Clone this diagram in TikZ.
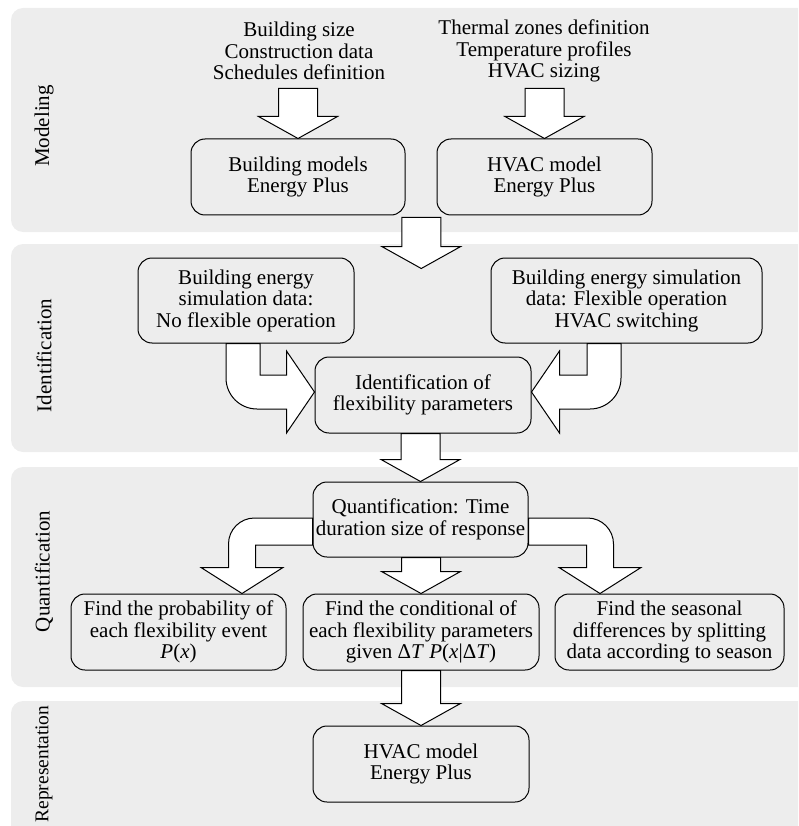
\documentclass[tikz,border=0pt]{standalone}
\usepackage{fontspec}
\setmainfont{Liberation Serif}
\usetikzlibrary{positioning, calc}
\definecolor{bandgray}{HTML}{EDEDED}
\tikzset{
    band/.style={fill=bandgray, draw=none, rounded corners=12pt},
    box/.style={draw, line width=1pt, fill=bandgray, rounded corners=14pt,
        align=center, minimum height=76pt, inner sep=2pt},
    phase/.style={rotate=90},
    blockarrow/.style={draw, line width=1pt, fill=white},
}
% straight block arrow, from top of shaft #1 down to tip #2
\newcommand{\DownArrow}[2]{%
  \draw[blockarrow] let \p1=(#1), \p2=(#2) in
    (\x2-19.5pt,\y1) -- (\x2-19.5pt,\y2+22pt) -- (\x2-39.5pt,\y2+22pt) -- (\x2,\y2)
    -- (\x2+39.5pt,\y2+22pt) -- (\x2+19.5pt,\y2+22pt) -- (\x2+19.5pt,\y1) -- cycle;}
% bent block arrows: #3 half shaft, #4 corner radius
\newcommand{\BendDownRight}[4]{%
  \draw[blockarrow] let \p1=(#1), \p2=(#2) in
    (\x1+#3,\y1) -- (\x1-#3,\y1) -- (\x1-#3,\y2-#3+#4)
    arc[start angle=180, end angle=270, radius=#4]
    -- (\x2-28pt,\y2-#3) -- (\x2-28pt,\y2-41pt) -- (\x2,\y2) -- (\x2-28pt,\y2+41pt)
    -- (\x2-28pt,\y2+#3) -- (\x1+#3,\y2+#3) -- cycle;}
\newcommand{\BendDownLeft}[4]{%
  \draw[blockarrow] let \p1=(#1), \p2=(#2) in
    (\x1-#3,\y1) -- (\x1+#3,\y1) -- (\x1+#3,\y2-#3+#4)
    arc[start angle=0, end angle=-90, radius=#4]
    -- (\x2+28pt,\y2-#3) -- (\x2+28pt,\y2-41pt) -- (\x2,\y2) -- (\x2+28pt,\y2+41pt)
    -- (\x2+28pt,\y2+#3) -- (\x1-#3,\y2+#3) -- cycle;}
\newcommand{\BendLeftDown}[4]{%
  \draw[blockarrow] let \p1=(#1), \p2=(#2) in
    (\x1,\y1+#3) -- (\x2-#3+#4,\y1+#3)
    arc[start angle=90, end angle=180, radius=#4]
    -- (\x2-#3,\y2+26pt) -- (\x2-41pt,\y2+26pt) -- (\x2,\y2) -- (\x2+41pt,\y2+26pt)
    -- (\x2+#3,\y2+26pt) -- (\x2+#3,\y1-#3) -- (\x1,\y1-#3) -- cycle;}
\newcommand{\BendRightDown}[4]{%
  \draw[blockarrow] let \p1=(#1), \p2=(#2) in
    (\x1,\y1+#3) -- (\x2+#3-#4,\y1+#3)
    arc[start angle=90, end angle=0, radius=#4]
    -- (\x2+#3,\y2+26pt) -- (\x2+41pt,\y2+26pt) -- (\x2,\y2) -- (\x2-41pt,\y2+26pt)
    -- (\x2-#3,\y2+26pt) -- (\x2-#3,\y1-#3) -- (\x1,\y1-#3) -- cycle;}

\begin{document}
\begin{tikzpicture}[x=1pt, y=1pt, font=\fontsize{21}{21.5}\selectfont]
    \useasboundingbox (0,0) rectangle (798,-826);
    \clip (0,0) rectangle (798,-826);

    % phase bands
    \fill[band] (11,-8) rectangle (830,-232);
    \fill[band] (11,-244) rectangle (830,-452);
    \fill[band] (11,-467) rectangle (830,-687);
    \fill[band] (11,-701) rectangle (830,-900);

    \node[phase] (lmod) at (44,-126) {Modeling};
    \node[phase] (lid) at (44,-355.5) {Identification};
    \node[phase] (lq) at (44,-571.5) {Quantification};
    \node[phase, font=\fontsize{19.5}{21}\selectfont] (lrep) at (44,-764) {Representation};

    % modeling
    \node[align=center] (in1) at (299,-51) {Building size\\Construction data\\Schedules definition};
    \node[align=center] (in2) at (544,-51) {Thermal zones definition\\Temperature profiles\\HVAC sizing};
    \node[box, minimum width=214pt] (bm) at (298,-177) {Building models\\Energy Plus};
    \node[box, minimum width=215pt, right=31pt of bm] (hm) {HVAC model\\Energy Plus};

    % identification
    \node[box, minimum width=216pt, minimum height=85pt] (nf) at (246,-300.5)
        {Building energy\\simulation data:\\No flexible operation};
    \node[box, minimum width=271pt, minimum height=85pt] (fo) at (626.5,-300.5)
        {Building energy simulation\\data: Flexible operation\\HVAC switching};
    \node[box, minimum width=216pt] (ip) at (423,-395) {Identification of\\flexibility parameters};

    % quantification
    \node[box, minimum width=215pt, minimum height=75pt] (qt) at (420.5,-519.5)
        {Quantification: Time\\duration size of response};
    \node[box, minimum width=215pt] (pb) at (178.5,-632)
        {Find the probability of\\each flexibility event\\\textit{P}(\textit{x})};
    \node[box, minimum width=236pt, right=16pt of pb] (cd)
        {Find the conditional of\\each flexibility parameters\\given Δ\textit{T} \textit{P}(\textit{x}|Δ\textit{T})};
    \node[box, minimum width=229pt, right=15pt of cd] (sd)
        {Find the seasonal\\differences by splitting\\data according to season};

    % representation
    \node[box, minimum width=216pt] (rp) at (421,-764) {HVAC model\\Energy Plus};

    \coordinate (mid) at ($(bm.south)!0.5!(hm.south)+(0,-53)$);

    \DownArrow{[yshift=50pt]bm.north}{bm.north}
    \DownArrow{[yshift=50pt]hm.north}{hm.north}
    \DownArrow{[yshift=-2pt]$(bm.south)!0.5!(hm.south)$}{mid}
    \BendDownRight{[xshift=-3pt]nf.south}{[yshift=3pt]ip.west}{17pt}{31pt}
    \BendDownLeft{[xshift=-22.5pt]fo.south}{[yshift=3pt]ip.east}{17pt}{31pt}
    \DownArrow{ip.south}{qt.north}
    \BendLeftDown{[yshift=-12pt]qt.west}{[xshift=63.5pt]pb.north}{13.5pt}{26pt}
    \BendRightDown{[yshift=-12pt]qt.east}{[xshift=-69.5pt]sd.north}{13.5pt}{26pt}
    \DownArrow{qt.south}{cd.north}
    \DownArrow{cd.south}{rp.north}
\end{tikzpicture}
\end{document}
